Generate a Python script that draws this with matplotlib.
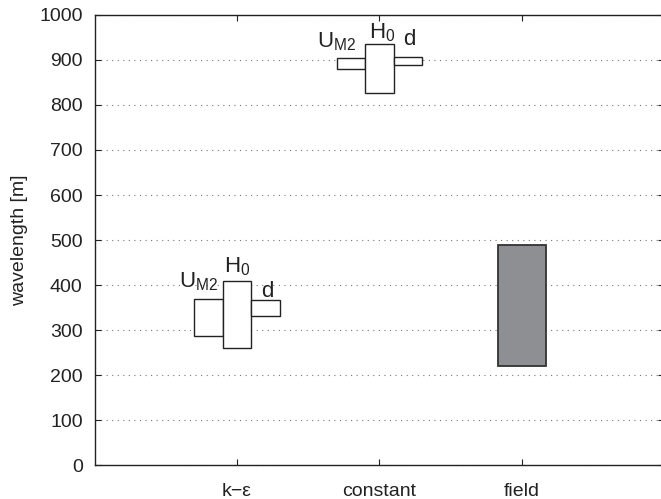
import matplotlib
matplotlib.use("Agg")
import matplotlib.pyplot as plt
from matplotlib.patches import Rectangle

plt.rcParams["font.family"] = ["Liberation Sans", "DejaVu Sans"]
plt.rcParams["mathtext.fontset"] = "custom"
plt.rcParams["mathtext.rm"] = "Liberation Sans"

# categories on the x axis
categories = ["k\u2212\u03b5", "constant", "field"]
positions = [1, 2, 3]

# wavelength ranges (min, max) per forcing parameter
k_eps_ranges = {"U_M2": (286, 370), "H_0": (261, 410), "d": (332, 366)}
constant_ranges = {"U_M2": (881, 905), "H_0": (826, 935), "d": (889, 907)}
field_range = (220, 490)

param_labels = {"U_M2": r"U$_{\mathrm{M2}}$", "H_0": r"H$_{\mathrm{0}}$", "d": "d"}
param_offsets = {"U_M2": -0.2, "H_0": 0.0, "d": 0.2}

# label anchors (x, baseline) per group
k_eps_text = {"U_M2": (0.593, 394), "H_0": (0.909, 427), "d": (1.168, 374)}
constant_text = {"U_M2": (1.559, 927), "H_0": (1.926, 949), "d": (2.165, 933)}

fig = plt.figure(figsize=(6.61, 4.99), dpi=100)
ax = fig.add_axes([0.143, 0.068, 0.862, 0.902])

box_w = 0.2
for pos, ranges, texts in zip(positions[:2], [k_eps_ranges, constant_ranges],
                              [k_eps_text, constant_text]):
    for key, (lo, hi) in ranges.items():
        xc = pos + param_offsets[key]
        ax.add_patch(Rectangle((xc - box_w / 2, lo), box_w, hi - lo,
                               facecolor="white", edgecolor="#222222", lw=1.0, zorder=3))
        tx, ty = texts[key]
        ax.text(tx, ty, param_labels[key], ha="left", va="baseline",
                fontsize=16, color="#222222", zorder=4)

fw = 0.335
ax.add_patch(Rectangle((3 - fw / 2, field_range[0]), fw, field_range[1] - field_range[0],
                       facecolor="#8e8f93", edgecolor="#333333", lw=1.3, zorder=3))

ax.set_xlim(0, 4)
ax.set_ylim(0, 1000)
ax.set_xticks(positions)
ax.set_xticklabels(categories)
ax.set_yticks(range(0, 1001, 100))
ax.yaxis.grid(True, linestyle=(0, (1, 4)), color="#777777", lw=0.8)
ax.set_axisbelow(True)
ax.tick_params(direction="in", length=4, top=True, right=True, labelsize=14,
               colors="#222222")
ax.tick_params(axis="x", pad=13)
ax.tick_params(axis="y", pad=8.5)
ax.set_ylabel("wavelength [m]", fontsize=14, color="#222222", labelpad=8)
for s in ax.spines.values():
    s.set_color("#222222")
    s.set_linewidth(1.0)

fig.savefig("out.png", dpi=100)
